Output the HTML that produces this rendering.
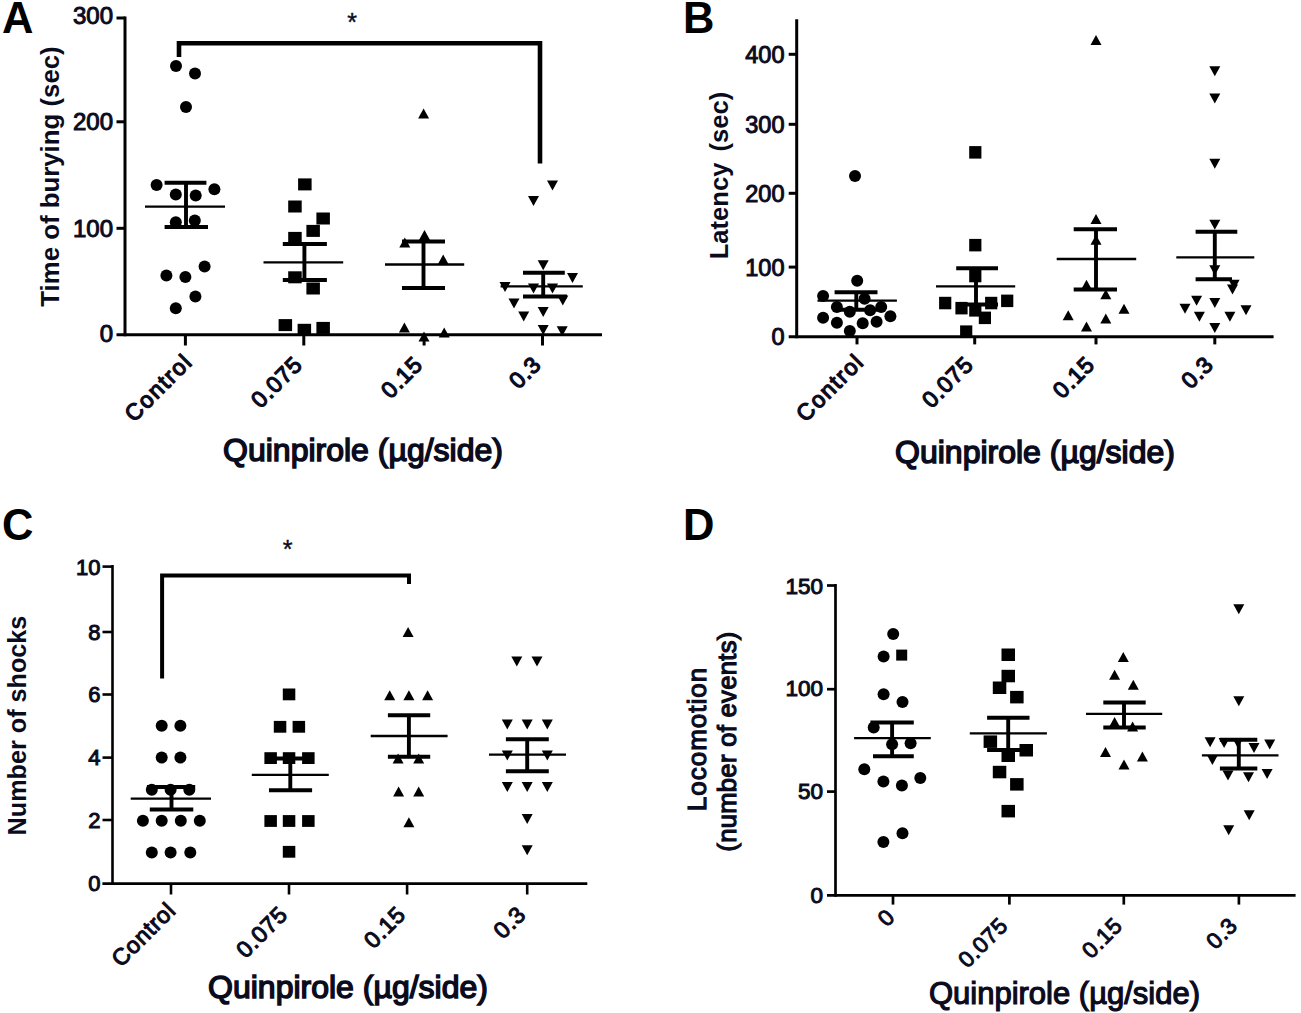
<!DOCTYPE html>
<html><head><meta charset="utf-8"><title>Figure</title>
<style>
html,body{margin:0;padding:0;background:#fff;}
body{width:1301px;height:1013px;overflow:hidden;}
svg{display:block;}
text{font-family:"Liberation Sans", sans-serif;}
</style></head><body>
<svg width="1301" height="1013" viewBox="0 0 1301 1013">
<rect width="1301" height="1013" fill="#fff"/>
<text x="2" y="33" font-size="43.5" font-weight="bold" text-anchor="start" fill="#000">A</text>
<line x1="125" y1="16.5" x2="125" y2="336.3" stroke="#000" stroke-width="3"/>
<line x1="116.5" y1="18" x2="125" y2="18" stroke="#000" stroke-width="3"/>
<line x1="116.5" y1="121.8" x2="125" y2="121.8" stroke="#000" stroke-width="3"/>
<line x1="116.5" y1="228.3" x2="125" y2="228.3" stroke="#000" stroke-width="3"/>
<line x1="116.5" y1="334.8" x2="602" y2="334.8" stroke="#000" stroke-width="3"/>
<line x1="185.4" y1="334.8" x2="185.4" y2="345.5" stroke="#000" stroke-width="3"/>
<line x1="303.8" y1="334.8" x2="303.8" y2="345.5" stroke="#000" stroke-width="3"/>
<line x1="424.1" y1="334.8" x2="424.1" y2="345.5" stroke="#000" stroke-width="3"/>
<line x1="542.5" y1="334.8" x2="542.5" y2="345.5" stroke="#000" stroke-width="3"/>
<text x="113" y="24.2" font-size="24" font-weight="normal" text-anchor="end" fill="#0b0b1e" stroke="#0b0b1e" stroke-width="1.0">300</text>
<text x="113" y="130.4" font-size="24" font-weight="normal" text-anchor="end" fill="#0b0b1e" stroke="#0b0b1e" stroke-width="1.0">200</text>
<text x="113" y="236.8" font-size="24" font-weight="normal" text-anchor="end" fill="#0b0b1e" stroke="#0b0b1e" stroke-width="1.0">100</text>
<text x="113" y="342.4" font-size="24" font-weight="normal" text-anchor="end" fill="#0b0b1e" stroke="#0b0b1e" stroke-width="1.0">0</text>
<path d="M179,57 L179,43.2 L540,43.2 L540,163.5" fill="none" stroke="#000" stroke-width="4.6"/>
<text x="352" y="31" font-size="25" font-weight="normal" text-anchor="middle" fill="#0b0b1e" stroke="#0b0b1e" stroke-width="0.4">*</text>
<g fill="#000">
<circle cx="176" cy="66" r="6"/>
<circle cx="195" cy="73.5" r="6"/>
<circle cx="186" cy="107" r="6"/>
<circle cx="156.6" cy="184.9" r="6"/>
<circle cx="214.4" cy="189.3" r="6"/>
<circle cx="175.8" cy="194.6" r="6"/>
<circle cx="195.7" cy="195.5" r="6"/>
<circle cx="175.8" cy="222.2" r="6"/>
<circle cx="194.8" cy="220.4" r="6"/>
<circle cx="204.6" cy="266.6" r="6"/>
<circle cx="166.4" cy="275.5" r="6"/>
<circle cx="185.4" cy="276.9" r="6"/>
<circle cx="195.4" cy="296.4" r="6"/>
<circle cx="175.8" cy="308.3" r="6"/>
<rect x="298.1" y="178.4" width="13.5" height="12"/>
<rect x="288.2" y="200.5" width="13.5" height="12"/>
<rect x="316.4" y="212.5" width="13.5" height="12"/>
<rect x="306.4" y="224.9" width="13.5" height="12"/>
<rect x="288.2" y="231.9" width="13.5" height="12"/>
<rect x="288.2" y="271.3" width="13.5" height="12"/>
<rect x="306.4" y="282.5" width="13.5" height="12"/>
<rect x="278.6" y="319.1" width="13.5" height="12"/>
<rect x="297.6" y="323.8" width="13.5" height="12"/>
<rect x="316.4" y="321.9" width="13.5" height="12"/>
<path d="M418.1,118.6L429.1,118.6L423.6,108.6Z"/>
<path d="M399.3,247.6L410.3,247.6L404.8,237.6Z"/>
<path d="M419.0,240.0L430.0,240.0L424.5,230.0Z"/>
<path d="M437.7,264.4L448.7,264.4L443.2,254.4Z"/>
<path d="M398.9,332.4L409.9,332.4L404.4,322.4Z"/>
<path d="M418.5,341.4L429.5,341.4L424.0,331.4Z"/>
<path d="M438.7,337.6L449.7,337.6L444.2,327.6Z"/>
<path d="M547.0,180.5L558.0,180.5L552.5,190.5Z"/>
<path d="M528.0,195.9L539.0,195.9L533.5,205.9Z"/>
<path d="M537.7,260.3L548.7,260.3L543.2,270.3Z"/>
<path d="M567.0,273.1L578.0,273.1L572.5,283.1Z"/>
<path d="M499.5,282.1L510.5,282.1L505.0,292.1Z"/>
<path d="M528.0,283.4L539.0,283.4L533.5,293.4Z"/>
<path d="M547.0,283.4L558.0,283.4L552.5,293.4Z"/>
<path d="M557.3,295.5L568.3,295.5L562.8,305.5Z"/>
<path d="M508.5,298.6L519.5,298.6L514.0,308.6Z"/>
<path d="M518.2,311.4L529.2,311.4L523.7,321.4Z"/>
<path d="M537.7,307.0L548.7,307.0L543.2,317.0Z"/>
<path d="M537.7,325.0L548.7,325.0L543.2,335.0Z"/>
<path d="M556.7,326.3L567.7,326.3L562.2,336.3Z"/>
</g>
<line x1="186" y1="182.7" x2="186" y2="227.1" stroke="#000" stroke-width="3.9"/>
<line x1="145" y1="206.7" x2="225" y2="206.7" stroke="#000" stroke-width="2.3"/>
<line x1="164.6" y1="182.7" x2="206.4" y2="182.7" stroke="#000" stroke-width="4.0"/>
<line x1="164.6" y1="227.1" x2="208" y2="227.1" stroke="#000" stroke-width="4.0"/>
<line x1="304.4" y1="243.9" x2="304.4" y2="280" stroke="#000" stroke-width="3.9"/>
<line x1="263.5" y1="262.3" x2="343.2" y2="262.3" stroke="#000" stroke-width="2.3"/>
<line x1="282.8" y1="243.9" x2="326.9" y2="243.9" stroke="#000" stroke-width="4.0"/>
<line x1="282.8" y1="280" x2="326.9" y2="280" stroke="#000" stroke-width="4.0"/>
<line x1="423.5" y1="241.6" x2="423.5" y2="288" stroke="#000" stroke-width="3.9"/>
<line x1="385" y1="264.5" x2="464.2" y2="264.5" stroke="#000" stroke-width="2.3"/>
<line x1="402" y1="241.6" x2="445" y2="241.6" stroke="#000" stroke-width="4.0"/>
<line x1="402" y1="288" x2="445" y2="288" stroke="#000" stroke-width="4.0"/>
<line x1="543.2" y1="272.8" x2="543.2" y2="296.6" stroke="#000" stroke-width="3.9"/>
<line x1="500.6" y1="286.4" x2="582.8" y2="286.4" stroke="#000" stroke-width="2.3"/>
<line x1="523" y1="272.8" x2="564.8" y2="272.8" stroke="#000" stroke-width="4.0"/>
<line x1="523" y1="296.6" x2="567" y2="296.6" stroke="#000" stroke-width="4.0"/>
<text x="193.9" y="363" font-size="22.8" font-weight="normal" text-anchor="end" fill="#0b0b1e" stroke="#0b0b1e" stroke-width="1.3" transform="rotate(-45 193.9 363)" letter-spacing="1.6">Control</text>
<text x="303.8" y="366" font-size="22.8" font-weight="normal" text-anchor="end" fill="#0b0b1e" stroke="#0b0b1e" stroke-width="1.3" transform="rotate(-45 303.8 366)" letter-spacing="0.8">0.075</text>
<text x="424.1" y="366" font-size="22.8" font-weight="normal" text-anchor="end" fill="#0b0b1e" stroke="#0b0b1e" stroke-width="1.3" transform="rotate(-45 424.1 366)" letter-spacing="0.8">0.15</text>
<text x="542.5" y="366" font-size="22.8" font-weight="normal" text-anchor="end" fill="#0b0b1e" stroke="#0b0b1e" stroke-width="1.3" transform="rotate(-45 542.5 366)" letter-spacing="0.8">0.3</text>
<text x="363" y="461" font-size="32" font-weight="normal" text-anchor="middle" fill="#0b0b1e" stroke="#0b0b1e" stroke-width="1.5">Quinpirole (µg/side)</text>
<text x="59" y="176.5" font-size="25.8" font-weight="bold" text-anchor="middle" fill="#0b0b1e" transform="rotate(-90 59 176.5)">Time of burying (sec)</text>
<text x="683" y="33" font-size="43.5" font-weight="bold" text-anchor="start" fill="#000">B</text>
<line x1="796.7" y1="19.3" x2="796.7" y2="338.3" stroke="#000" stroke-width="3"/>
<line x1="788.7" y1="54.3" x2="796.7" y2="54.3" stroke="#000" stroke-width="3"/>
<line x1="788.7" y1="124.3" x2="796.7" y2="124.3" stroke="#000" stroke-width="3"/>
<line x1="788.7" y1="193.3" x2="796.7" y2="193.3" stroke="#000" stroke-width="3"/>
<line x1="788.7" y1="267.1" x2="796.7" y2="267.1" stroke="#000" stroke-width="3"/>
<line x1="788.7" y1="336.8" x2="1273.6" y2="336.8" stroke="#000" stroke-width="3"/>
<line x1="857" y1="336.8" x2="857" y2="344.4" stroke="#000" stroke-width="3"/>
<line x1="974.7" y1="336.8" x2="974.7" y2="344.4" stroke="#000" stroke-width="3"/>
<line x1="1096" y1="336.8" x2="1096" y2="344.4" stroke="#000" stroke-width="3"/>
<line x1="1214.8" y1="336.8" x2="1214.8" y2="344.4" stroke="#000" stroke-width="3"/>
<text x="784.5" y="62.9" font-size="23.5" font-weight="normal" text-anchor="end" fill="#0b0b1e" stroke="#0b0b1e" stroke-width="1.0">400</text>
<text x="784.5" y="132.9" font-size="23.5" font-weight="normal" text-anchor="end" fill="#0b0b1e" stroke="#0b0b1e" stroke-width="1.0">300</text>
<text x="784.5" y="201.9" font-size="23.5" font-weight="normal" text-anchor="end" fill="#0b0b1e" stroke="#0b0b1e" stroke-width="1.0">200</text>
<text x="784.5" y="275.7" font-size="23.5" font-weight="normal" text-anchor="end" fill="#0b0b1e" stroke="#0b0b1e" stroke-width="1.0">100</text>
<text x="784.5" y="345.4" font-size="23.5" font-weight="normal" text-anchor="end" fill="#0b0b1e" stroke="#0b0b1e" stroke-width="1.0">0</text>
<g fill="#000">
<circle cx="855" cy="176" r="6"/>
<circle cx="857.2" cy="280.8" r="6"/>
<circle cx="823.1" cy="296" r="6"/>
<circle cx="864.6" cy="298.7" r="6"/>
<circle cx="836.9" cy="307" r="6"/>
<circle cx="849.8" cy="311.7" r="6"/>
<circle cx="870.1" cy="310.3" r="6"/>
<circle cx="881.2" cy="307" r="6"/>
<circle cx="890.4" cy="316.3" r="6"/>
<circle cx="823.1" cy="317.7" r="6"/>
<circle cx="836.9" cy="322.7" r="6"/>
<circle cx="862.7" cy="323.2" r="6"/>
<circle cx="876.6" cy="321.8" r="6"/>
<circle cx="849.8" cy="331" r="6"/>
<rect x="969.2" y="146.1" width="12.2" height="12.5"/>
<rect x="969.2" y="238.9" width="12.2" height="12.5"/>
<rect x="969.2" y="269.8" width="12.2" height="12.5"/>
<rect x="939.1" y="296.8" width="12.2" height="12.5"/>
<rect x="955.4" y="301.9" width="12.2" height="12.5"/>
<rect x="969.2" y="304.1" width="12.2" height="12.5"/>
<rect x="985.1" y="296.8" width="12.2" height="12.5"/>
<rect x="1001.1" y="294.6" width="12.2" height="12.5"/>
<rect x="978.8" y="311.6" width="12.2" height="12.5"/>
<rect x="960.1" y="325.4" width="12.2" height="12.5"/>
<path d="M1090.5,44.9L1101.5,44.9L1096.0,34.9Z"/>
<path d="M1090.5,223.9L1101.5,223.9L1096.0,213.9Z"/>
<path d="M1090.5,244.8L1101.5,244.8L1096.0,234.8Z"/>
<path d="M1081.0,289.7L1092.0,289.7L1086.5,279.7Z"/>
<path d="M1100.3,299.3L1111.3,299.3L1105.8,289.3Z"/>
<path d="M1118.5,313.7L1129.5,313.7L1124.0,303.7Z"/>
<path d="M1062.7,320.2L1073.7,320.2L1068.2,310.2Z"/>
<path d="M1100.3,323.4L1111.3,323.4L1105.8,313.4Z"/>
<path d="M1081.0,331.4L1092.0,331.4L1086.5,321.4Z"/>
<path d="M1209.3,66.3L1220.3,66.3L1214.8,76.3Z"/>
<path d="M1209.3,93.6L1220.3,93.6L1214.8,103.6Z"/>
<path d="M1209.3,158.7L1220.3,158.7L1214.8,168.7Z"/>
<path d="M1209.3,219.7L1220.3,219.7L1214.8,229.7Z"/>
<path d="M1209.3,265.2L1220.3,265.2L1214.8,275.2Z"/>
<path d="M1228.6,279.7L1239.6,279.7L1234.1,289.7Z"/>
<path d="M1227.0,284.5L1238.0,284.5L1232.5,294.5Z"/>
<path d="M1191.1,295.7L1202.1,295.7L1196.6,305.7Z"/>
<path d="M1209.3,298.0L1220.3,298.0L1214.8,308.0Z"/>
<path d="M1179.5,303.7L1190.5,303.7L1185.0,313.7Z"/>
<path d="M1240.5,305.3L1251.5,305.3L1246.0,315.3Z"/>
<path d="M1193.9,311.8L1204.9,311.8L1199.4,321.8Z"/>
<path d="M1224.4,311.8L1235.4,311.8L1229.9,321.8Z"/>
<path d="M1209.3,323.0L1220.3,323.0L1214.8,333.0Z"/>
</g>
<line x1="856.3" y1="292.3" x2="856.3" y2="309.8" stroke="#000" stroke-width="3.9"/>
<line x1="817.5" y1="300.6" x2="896.9" y2="300.6" stroke="#000" stroke-width="2.3"/>
<line x1="834.6" y1="292.3" x2="877.5" y2="292.3" stroke="#000" stroke-width="4.0"/>
<line x1="834.6" y1="309.8" x2="877.5" y2="309.8" stroke="#000" stroke-width="4.0"/>
<line x1="976" y1="268.3" x2="976" y2="304.5" stroke="#000" stroke-width="3.9"/>
<line x1="936" y1="286.4" x2="1015.2" y2="286.4" stroke="#000" stroke-width="2.3"/>
<line x1="956.2" y1="268.3" x2="998" y2="268.3" stroke="#000" stroke-width="4.0"/>
<line x1="956.2" y1="304.5" x2="998" y2="304.5" stroke="#000" stroke-width="4.0"/>
<line x1="1096" y1="229.2" x2="1096" y2="289.5" stroke="#000" stroke-width="3.9"/>
<line x1="1056.7" y1="259" x2="1136.2" y2="259" stroke="#000" stroke-width="2.3"/>
<line x1="1073.7" y1="229.2" x2="1117" y2="229.2" stroke="#000" stroke-width="4.0"/>
<line x1="1073.7" y1="289.5" x2="1117" y2="289.5" stroke="#000" stroke-width="4.0"/>
<line x1="1214.8" y1="231.7" x2="1214.8" y2="279.2" stroke="#000" stroke-width="3.9"/>
<line x1="1176.3" y1="257.4" x2="1254.3" y2="257.4" stroke="#000" stroke-width="2.3"/>
<line x1="1195.6" y1="231.7" x2="1237.3" y2="231.7" stroke="#000" stroke-width="4.0"/>
<line x1="1195.6" y1="279.2" x2="1232" y2="279.2" stroke="#000" stroke-width="4.0"/>
<text x="865.5" y="363" font-size="22.8" font-weight="normal" text-anchor="end" fill="#0b0b1e" stroke="#0b0b1e" stroke-width="1.3" transform="rotate(-45 865.5 363)" letter-spacing="1.6">Control</text>
<text x="974.7" y="366" font-size="22.8" font-weight="normal" text-anchor="end" fill="#0b0b1e" stroke="#0b0b1e" stroke-width="1.3" transform="rotate(-45 974.7 366)" letter-spacing="0.8">0.075</text>
<text x="1096" y="366" font-size="22.8" font-weight="normal" text-anchor="end" fill="#0b0b1e" stroke="#0b0b1e" stroke-width="1.3" transform="rotate(-45 1096 366)" letter-spacing="0.8">0.15</text>
<text x="1214.8" y="366" font-size="22.8" font-weight="normal" text-anchor="end" fill="#0b0b1e" stroke="#0b0b1e" stroke-width="1.3" transform="rotate(-45 1214.8 366)" letter-spacing="0.8">0.3</text>
<text x="1035" y="462.5" font-size="32" font-weight="normal" text-anchor="middle" fill="#0b0b1e" stroke="#0b0b1e" stroke-width="1.5">Quinpirole (µg/side)</text>
<text x="728" y="175.5" font-size="25.6" font-weight="bold" text-anchor="middle" fill="#0b0b1e" transform="rotate(-90 728 175.5)">Latency<tspan dx='4'> (sec)</tspan></text>
<text x="2" y="540" font-size="43.5" font-weight="bold" text-anchor="start" fill="#000">C</text>
<line x1="112.5" y1="565" x2="112.5" y2="885" stroke="#000" stroke-width="2.6"/>
<line x1="102.5" y1="566.6" x2="112.5" y2="566.6" stroke="#000" stroke-width="2.6"/>
<line x1="102.5" y1="632" x2="112.5" y2="632" stroke="#000" stroke-width="2.6"/>
<line x1="102.5" y1="694.5" x2="112.5" y2="694.5" stroke="#000" stroke-width="2.6"/>
<line x1="102.5" y1="757.6" x2="112.5" y2="757.6" stroke="#000" stroke-width="2.6"/>
<line x1="102.5" y1="820" x2="112.5" y2="820" stroke="#000" stroke-width="2.6"/>
<line x1="102.4" y1="883.6" x2="587.3" y2="883.6" stroke="#000" stroke-width="2.6"/>
<line x1="171" y1="883.6" x2="171" y2="894.5" stroke="#000" stroke-width="2.6"/>
<line x1="289" y1="883.6" x2="289" y2="894.5" stroke="#000" stroke-width="2.6"/>
<line x1="407.1" y1="883.6" x2="407.1" y2="894.5" stroke="#000" stroke-width="2.6"/>
<line x1="527.2" y1="883.6" x2="527.2" y2="894.5" stroke="#000" stroke-width="2.6"/>
<text x="100.5" y="574.6" font-size="22" font-weight="normal" text-anchor="end" fill="#0b0b1e" stroke="#0b0b1e" stroke-width="1.0">10</text>
<text x="100.5" y="639.6" font-size="22" font-weight="normal" text-anchor="end" fill="#0b0b1e" stroke="#0b0b1e" stroke-width="1.0">8</text>
<text x="100.5" y="702.1" font-size="22" font-weight="normal" text-anchor="end" fill="#0b0b1e" stroke="#0b0b1e" stroke-width="1.0">6</text>
<text x="100.5" y="765.2" font-size="22" font-weight="normal" text-anchor="end" fill="#0b0b1e" stroke="#0b0b1e" stroke-width="1.0">4</text>
<text x="100.5" y="827.6" font-size="22" font-weight="normal" text-anchor="end" fill="#0b0b1e" stroke="#0b0b1e" stroke-width="1.0">2</text>
<text x="100.5" y="891.2" font-size="22" font-weight="normal" text-anchor="end" fill="#0b0b1e" stroke="#0b0b1e" stroke-width="1.0">0</text>
<path d="M162.1,678.5 L162.1,575.5 L409,575.5 L409,584" fill="none" stroke="#000" stroke-width="4"/>
<text x="287.6" y="557.5" font-size="25" font-weight="normal" text-anchor="middle" fill="#0b0b1e" stroke="#0b0b1e" stroke-width="0.4">*</text>
<g fill="#000">
<circle cx="161.7" cy="725.7" r="6"/>
<circle cx="180.4" cy="725.7" r="6"/>
<circle cx="161.7" cy="757.6" r="6"/>
<circle cx="180.4" cy="757.6" r="6"/>
<circle cx="151.8" cy="789.8" r="6"/>
<circle cx="170.6" cy="789.8" r="6"/>
<circle cx="189.3" cy="789.8" r="6"/>
<circle cx="142.9" cy="820.8" r="6"/>
<circle cx="161.7" cy="820.8" r="6"/>
<circle cx="180.8" cy="820.8" r="6"/>
<circle cx="199.8" cy="820.8" r="6"/>
<circle cx="151.8" cy="852.4" r="6"/>
<circle cx="170.6" cy="852.4" r="6"/>
<circle cx="190.3" cy="852.4" r="6"/>
<rect x="282.8" y="688.5" width="12.5" height="11.8"/>
<rect x="273.8" y="720.9" width="12.5" height="11.8"/>
<rect x="292.6" y="720.9" width="12.5" height="11.8"/>
<rect x="264.4" y="752.2" width="12.5" height="11.8"/>
<rect x="282.8" y="752.2" width="12.5" height="11.8"/>
<rect x="302.1" y="752.2" width="12.5" height="11.8"/>
<rect x="264.4" y="815.1" width="12.5" height="11.8"/>
<rect x="282.8" y="815.1" width="12.5" height="11.8"/>
<rect x="302.1" y="815.1" width="12.5" height="11.8"/>
<rect x="282.8" y="845.9" width="12.5" height="11.8"/>
<path d="M402.6,637.0L413.6,637.0L408.1,627.0Z"/>
<path d="M384.2,700.2L395.2,700.2L389.7,690.2Z"/>
<path d="M403.4,700.2L414.4,700.2L408.9,690.2Z"/>
<path d="M422.1,700.2L433.1,700.2L427.6,690.2Z"/>
<path d="M392.6,763.6L403.6,763.6L398.1,753.6Z"/>
<path d="M413.2,763.6L424.2,763.6L418.7,753.6Z"/>
<path d="M393.1,796.4L404.1,796.4L398.6,786.4Z"/>
<path d="M413.2,796.4L424.2,796.4L418.7,786.4Z"/>
<path d="M403.4,827.2L414.4,827.2L408.9,817.2Z"/>
<path d="M511.3,656.6L522.3,656.6L516.8,666.6Z"/>
<path d="M531.5,656.6L542.5,656.6L537.0,666.6Z"/>
<path d="M501.8,719.4L512.8,719.4L507.3,729.4Z"/>
<path d="M521.7,719.4L532.7,719.4L527.2,729.4Z"/>
<path d="M541.8,719.4L552.8,719.4L547.3,729.4Z"/>
<path d="M501.8,750.5L512.8,750.5L507.3,760.5Z"/>
<path d="M541.8,750.5L552.8,750.5L547.3,760.5Z"/>
<path d="M501.8,782.1L512.8,782.1L507.3,792.1Z"/>
<path d="M521.7,782.1L532.7,782.1L527.2,792.1Z"/>
<path d="M541.8,782.1L552.8,782.1L547.3,792.1Z"/>
<path d="M521.7,814.1L532.7,814.1L527.2,824.1Z"/>
<path d="M521.7,845.2L532.7,845.2L527.2,855.2Z"/>
</g>
<line x1="171.5" y1="786.9" x2="171.5" y2="809.6" stroke="#000" stroke-width="3.9"/>
<line x1="130.7" y1="798.7" x2="211" y2="798.7" stroke="#000" stroke-width="2.3"/>
<line x1="146.9" y1="786.9" x2="195.2" y2="786.9" stroke="#000" stroke-width="4.0"/>
<line x1="149.8" y1="809.6" x2="193.3" y2="809.6" stroke="#000" stroke-width="4.0"/>
<line x1="290.3" y1="758.5" x2="290.3" y2="790.2" stroke="#000" stroke-width="3.9"/>
<line x1="251.8" y1="774.8" x2="328.8" y2="774.8" stroke="#000" stroke-width="2.3"/>
<line x1="269" y1="758.5" x2="312.1" y2="758.5" stroke="#000" stroke-width="4.0"/>
<line x1="269" y1="790.2" x2="312.1" y2="790.2" stroke="#000" stroke-width="4.0"/>
<line x1="408.9" y1="715.2" x2="408.9" y2="756.8" stroke="#000" stroke-width="3.9"/>
<line x1="370.7" y1="736" x2="447.6" y2="736" stroke="#000" stroke-width="2.3"/>
<line x1="387.9" y1="715.2" x2="430.2" y2="715.2" stroke="#000" stroke-width="4.0"/>
<line x1="387.9" y1="756.8" x2="430.2" y2="756.8" stroke="#000" stroke-width="4.0"/>
<line x1="527.2" y1="739.2" x2="527.2" y2="771.2" stroke="#000" stroke-width="3.9"/>
<line x1="489" y1="754.6" x2="566" y2="754.6" stroke="#000" stroke-width="2.3"/>
<line x1="505.9" y1="739.2" x2="548.8" y2="739.2" stroke="#000" stroke-width="4.0"/>
<line x1="505.9" y1="771.2" x2="548.8" y2="771.2" stroke="#000" stroke-width="4.0"/>
<text x="177" y="912" font-size="23" font-weight="normal" text-anchor="end" fill="#0b0b1e" stroke="#0b0b1e" stroke-width="1.1" transform="rotate(-45 177 912)" letter-spacing="0.7">Control</text>
<text x="289" y="916" font-size="23" font-weight="normal" text-anchor="end" fill="#0b0b1e" stroke="#0b0b1e" stroke-width="1.1" transform="rotate(-45 289 916)" letter-spacing="0.7">0.075</text>
<text x="407.1" y="916" font-size="23" font-weight="normal" text-anchor="end" fill="#0b0b1e" stroke="#0b0b1e" stroke-width="1.1" transform="rotate(-45 407.1 916)" letter-spacing="0.7">0.15</text>
<text x="527.2" y="916" font-size="23" font-weight="normal" text-anchor="end" fill="#0b0b1e" stroke="#0b0b1e" stroke-width="1.1" transform="rotate(-45 527.2 916)" letter-spacing="0.7">0.3</text>
<text x="348" y="998" font-size="32" font-weight="normal" text-anchor="middle" fill="#0b0b1e" stroke="#0b0b1e" stroke-width="1.5">Quinpirole (µg/side)</text>
<text x="26" y="725.5" font-size="25.2" font-weight="bold" text-anchor="middle" fill="#0b0b1e" transform="rotate(-90 26 725.5)">Number of shocks</text>
<text x="683" y="540" font-size="43.5" font-weight="bold" text-anchor="start" fill="#000">D</text>
<line x1="835.5" y1="584" x2="835.5" y2="896.7" stroke="#000" stroke-width="2.7"/>
<line x1="827" y1="585.5" x2="835.5" y2="585.5" stroke="#000" stroke-width="2.7"/>
<line x1="827" y1="689.2" x2="835.5" y2="689.2" stroke="#000" stroke-width="2.7"/>
<line x1="827" y1="791.6" x2="835.5" y2="791.6" stroke="#000" stroke-width="2.7"/>
<line x1="827" y1="895.3" x2="1295.6" y2="895.3" stroke="#000" stroke-width="2.7"/>
<line x1="893" y1="895.3" x2="893" y2="904.6" stroke="#000" stroke-width="2.7"/>
<line x1="1009.4" y1="895.3" x2="1009.4" y2="904.6" stroke="#000" stroke-width="2.7"/>
<line x1="1123.8" y1="895.3" x2="1123.8" y2="904.6" stroke="#000" stroke-width="2.7"/>
<line x1="1238.9" y1="895.3" x2="1238.9" y2="904.6" stroke="#000" stroke-width="2.7"/>
<text x="823" y="594.4" font-size="22.5" font-weight="normal" text-anchor="end" fill="#0b0b1e" stroke="#0b0b1e" stroke-width="1.0">150</text>
<text x="823" y="695.8" font-size="22.5" font-weight="normal" text-anchor="end" fill="#0b0b1e" stroke="#0b0b1e" stroke-width="1.0">100</text>
<text x="823" y="799" font-size="22.5" font-weight="normal" text-anchor="end" fill="#0b0b1e" stroke="#0b0b1e" stroke-width="1.0">50</text>
<text x="823" y="902.5" font-size="22.5" font-weight="normal" text-anchor="end" fill="#0b0b1e" stroke="#0b0b1e" stroke-width="1.0">0</text>
<g fill="#000">
<circle cx="893.2" cy="633.9" r="6"/>
<circle cx="883.6" cy="656.6" r="6"/>
<circle cx="883.6" cy="694.3" r="6"/>
<circle cx="902.5" cy="701.9" r="6"/>
<circle cx="873.7" cy="727.4" r="6"/>
<circle cx="892.1" cy="744.3" r="6"/>
<circle cx="910.6" cy="743.2" r="6"/>
<circle cx="864.3" cy="769.3" r="6"/>
<circle cx="883.4" cy="781.6" r="6"/>
<circle cx="901.9" cy="785.5" r="6"/>
<circle cx="920.3" cy="777.9" r="6"/>
<circle cx="883.4" cy="842" r="6"/>
<circle cx="902.5" cy="833.3" r="6"/>
<rect x="896.2" y="649.6" width="11" height="11"/>
<rect x="1001.5" y="648.5" width="13.5" height="12.5"/>
<rect x="1001.5" y="669.8" width="13.5" height="12.5"/>
<rect x="992.8" y="681.5" width="13.5" height="12.5"/>
<rect x="1010.1" y="690.9" width="13.5" height="12.5"/>
<rect x="983.6" y="735.4" width="13.5" height="12.5"/>
<rect x="1001.5" y="749.5" width="13.5" height="12.5"/>
<rect x="1019.5" y="744.0" width="13.5" height="12.5"/>
<rect x="992.8" y="765.8" width="13.5" height="12.5"/>
<rect x="1010.1" y="778.1" width="13.5" height="12.5"/>
<rect x="1001.5" y="804.9" width="13.5" height="12.5"/>
<path d="M1117.8,661.9L1128.8,661.9L1123.3,651.9Z"/>
<path d="M1109.1,679.7L1120.1,679.7L1114.6,669.7Z"/>
<path d="M1127.8,689.7L1138.8,689.7L1133.3,679.7Z"/>
<path d="M1109.1,727.0L1120.1,727.0L1114.6,717.0Z"/>
<path d="M1127.1,731.4L1138.1,731.4L1132.6,721.4Z"/>
<path d="M1100.0,757.0L1111.0,757.0L1105.5,747.0Z"/>
<path d="M1136.9,761.4L1147.9,761.4L1142.4,751.4Z"/>
<path d="M1118.5,769.4L1129.5,769.4L1124.0,759.4Z"/>
<path d="M1233.3,604.3L1244.3,604.3L1238.8,614.3Z"/>
<path d="M1233.3,696.3L1244.3,696.3L1238.8,706.3Z"/>
<path d="M1204.6,737.3L1215.6,737.3L1210.1,747.3Z"/>
<path d="M1218.6,738.0L1229.6,738.0L1224.1,748.0Z"/>
<path d="M1232.3,738.0L1243.3,738.0L1237.8,748.0Z"/>
<path d="M1248.5,742.9L1259.5,742.9L1254.0,752.9Z"/>
<path d="M1264.2,739.6L1275.2,739.6L1269.7,749.6Z"/>
<path d="M1206.9,755.0L1217.9,755.0L1212.4,765.0Z"/>
<path d="M1222.5,770.6L1233.5,770.6L1228.0,780.6Z"/>
<path d="M1243.0,772.2L1254.0,772.2L1248.5,782.2Z"/>
<path d="M1261.6,768.9L1272.6,768.9L1267.1,778.9Z"/>
<path d="M1243.7,810.3L1254.7,810.3L1249.2,820.3Z"/>
<path d="M1223.2,825.3L1234.2,825.3L1228.7,835.3Z"/>
</g>
<line x1="892.1" y1="722.6" x2="892.1" y2="756.2" stroke="#000" stroke-width="3.9"/>
<line x1="854.1" y1="738.2" x2="930.8" y2="738.2" stroke="#000" stroke-width="2.3"/>
<line x1="870.4" y1="722.6" x2="913.8" y2="722.6" stroke="#000" stroke-width="4.0"/>
<line x1="873" y1="756.2" x2="913.8" y2="756.2" stroke="#000" stroke-width="4.0"/>
<line x1="1008.2" y1="717.7" x2="1008.2" y2="749.9" stroke="#000" stroke-width="3.9"/>
<line x1="969.8" y1="733.4" x2="1046.9" y2="733.4" stroke="#000" stroke-width="2.3"/>
<line x1="987.1" y1="717.7" x2="1029.5" y2="717.7" stroke="#000" stroke-width="4.0"/>
<line x1="987.1" y1="749.9" x2="1029.5" y2="749.9" stroke="#000" stroke-width="4.0"/>
<line x1="1124" y1="702.5" x2="1124" y2="727.5" stroke="#000" stroke-width="3.9"/>
<line x1="1086" y1="713.8" x2="1162.2" y2="713.8" stroke="#000" stroke-width="2.3"/>
<line x1="1103.3" y1="702.5" x2="1145.7" y2="702.5" stroke="#000" stroke-width="4.0"/>
<line x1="1103.3" y1="727.5" x2="1145.7" y2="727.5" stroke="#000" stroke-width="4.0"/>
<line x1="1238.8" y1="739.7" x2="1238.8" y2="768.4" stroke="#000" stroke-width="3.9"/>
<line x1="1201.9" y1="755.4" x2="1278.5" y2="755.4" stroke="#000" stroke-width="2.3"/>
<line x1="1219.9" y1="739.7" x2="1257.3" y2="739.7" stroke="#000" stroke-width="4.0"/>
<line x1="1219.9" y1="768.4" x2="1257.3" y2="768.4" stroke="#000" stroke-width="4.0"/>
<text x="896.4" y="918.5" font-size="22.5" font-weight="normal" text-anchor="end" fill="#0b0b1e" stroke="#0b0b1e" stroke-width="1.0" transform="rotate(-45 896.4 918.5)" letter-spacing="0.6">0</text>
<text x="1009.4" y="927" font-size="22.5" font-weight="normal" text-anchor="end" fill="#0b0b1e" stroke="#0b0b1e" stroke-width="1.0" transform="rotate(-45 1009.4 927)" letter-spacing="0.6">0.075</text>
<text x="1123.8" y="927" font-size="22.5" font-weight="normal" text-anchor="end" fill="#0b0b1e" stroke="#0b0b1e" stroke-width="1.0" transform="rotate(-45 1123.8 927)" letter-spacing="0.6">0.15</text>
<text x="1238.9" y="927" font-size="22.5" font-weight="normal" text-anchor="end" fill="#0b0b1e" stroke="#0b0b1e" stroke-width="1.0" transform="rotate(-45 1238.9 927)" letter-spacing="0.6">0.3</text>
<text x="1064.5" y="1004.4" font-size="31" font-weight="normal" text-anchor="middle" fill="#0b0b1e" stroke="#0b0b1e" stroke-width="1.2">Quinpirole (µg/side)</text>
<text x="706" y="739" font-size="26" font-weight="normal" text-anchor="middle" fill="#0b0b1e" stroke="#0b0b1e" stroke-width="1.2" transform="rotate(-90 706 739)" letter-spacing="1.0">Locomotion</text>
<text x="736" y="741.5" font-size="25.5" font-weight="normal" text-anchor="middle" fill="#0b0b1e" stroke="#0b0b1e" stroke-width="1.2" transform="rotate(-90 736 741.5)" letter-spacing="0.35">(number of events)</text>
</svg>
</body></html>
